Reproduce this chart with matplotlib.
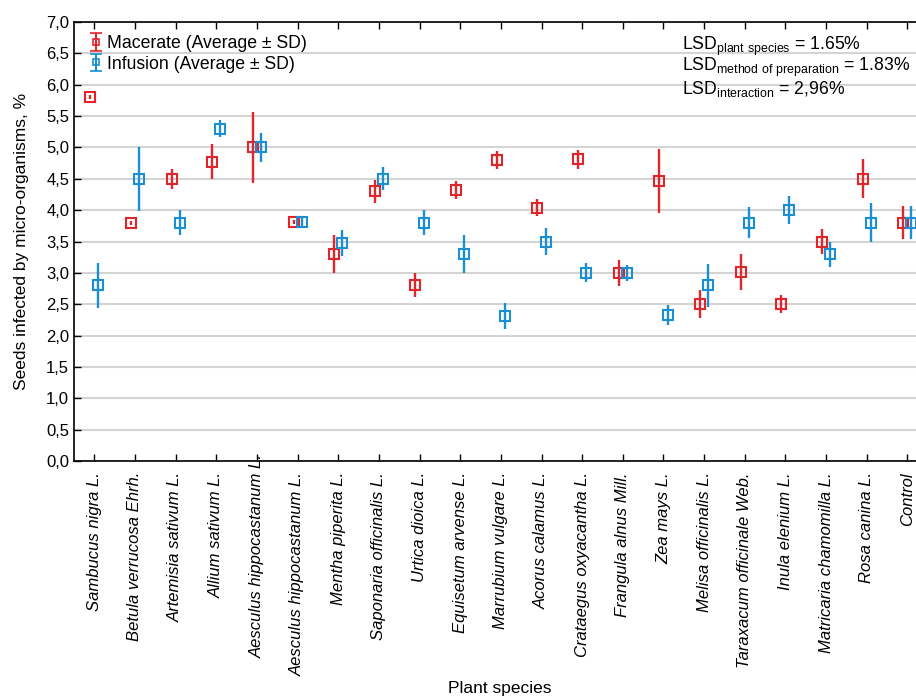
import numpy as np
import matplotlib
matplotlib.use("Agg")
import matplotlib.pyplot as plt
from matplotlib.ticker import FuncFormatter, MultipleLocator
from matplotlib.transforms import ScaledTranslation

plt.rcParams["font.family"] = ["Liberation Sans", "DejaVu Sans"]
plt.rcParams["mathtext.fontset"] = "custom"
plt.rcParams["mathtext.rm"] = "Liberation Sans"
plt.rcParams["font.size"] = 12

species = [
    "Sambucus nigra L.", "Betula verrucosa Ehrh.", "Artemisia sativum L.",
    "Allium sativum L.", "Aesculus hippocastanum L.", "Aesculus hippocastanum L.",
    "Mentha piperita L.", "Saponaria officinalis L.", "Urtica dioica L.",
    "Equisetum arvense L.", "Marrubium vulgare L.", "Acorus calamus L.",
    "Crataegus oxyacantha L.", "Frangula alnus Mill.", "Zea mays L.",
    "Melisa officinalis L.", "Taraxacum officinale Web.", "Inula elenium L.",
    "Matricaria chamomilla L.", "Rosa canina L.", "Control",
]
macerate_mean = [5.8, 3.8, 4.5, 4.77, 5.0, 3.81, 3.3, 4.3, 2.8, 4.32, 4.8,
                 4.04, 4.81, 3.0, 4.47, 2.5, 3.01, 2.5, 3.5, 4.5, 3.8]
macerate_sd = [0.03, 0.03, 0.16, 0.28, 0.57, 0.03, 0.3, 0.18, 0.19, 0.15, 0.15,
               0.14, 0.15, 0.21, 0.51, 0.22, 0.29, 0.14, 0.2, 0.31, 0.26]
infusion_mean = [2.8, 4.5, 3.8, 5.3, 5.0, 3.81, 3.48, 4.5, 3.8, 3.3, 2.31,
                 3.5, 3.0, 3.0, 2.33, 2.8, 3.8, 4.0, 3.3, 3.8, 3.8]
infusion_sd = [0.36, 0.51, 0.2, 0.14, 0.23, 0.1, 0.21, 0.18, 0.2, 0.3, 0.21,
               0.22, 0.15, 0.13, 0.16, 0.34, 0.25, 0.22, 0.2, 0.31, 0.26]

RED = "#e2252b"
BLUE = "#1a8fd3"

fig = plt.figure(figsize=(9.16, 6.98), dpi=100)
W, H = 916, 698
ax = fig.add_axes([74 / W, (H - 461) / H, 853.7 / W, 439 / H])

x = np.arange(len(species))
style = dict(fmt="s", ms=7, mfc="none", mew=1.5, elinewidth=1.7, capsize=0, ls="none")
ax.errorbar(x - 0.1, macerate_mean, yerr=macerate_sd, color=RED, zorder=3, **style)
ax.errorbar(x + 0.1, infusion_mean, yerr=infusion_sd, color=BLUE, zorder=3, **style)

# legend-only handles (with caps like the original)
leg_style = dict(fmt="s", ms=5, mfc="none", mew=1.2, elinewidth=1.5, capsize=4, capthick=1.5, ls="none")
h1 = ax.errorbar([np.nan], [np.nan], yerr=[0.1], color=RED, label="Macerate (Average ± SD)", **leg_style)
h2 = ax.errorbar([np.nan], [np.nan], yerr=[0.1], color=BLUE, label="Infusion (Average ± SD)", **leg_style)
ax.legend(handles=[h1, h2], loc="upper left", frameon=False, fontsize=12.7,
          handlelength=0.8, handletextpad=0.2, borderaxespad=0, borderpad=0,
          labelspacing=0.2, bbox_to_anchor=(15 / 853.7, 1 - 13 / 439))

ax.set_xlim(-0.5, 20.5)
ax.set_ylim(0, 7)
ax.yaxis.set_major_locator(MultipleLocator(0.5))
ax.yaxis.set_major_formatter(FuncFormatter(lambda v, p: f"{v:.1f}".replace(".", ",")))
ax.grid(True, axis="y", color="#d4d4d4", lw=1.5)
ax.set_axisbelow(True)

ax.set_xticks(x)
ax.set_xticklabels(species, rotation=90, style="italic", va="top", ha="center")
ax.tick_params(axis="both", direction="in", top=True, right=True, length=5, width=1)
ax.tick_params(axis="x", pad=8)
for s in ax.spines.values():
    s.set_linewidth(1.2)

# the first Aesculus label sits higher in the original
lbl = ax.get_xticklabels()[4]
lbl.set_transform(lbl.get_transform() + ScaledTranslation(0, 18 / 100, fig.dpi_scale_trans))

ax.set_ylabel("Seeds infected by micro-organisms, %", fontsize=12.5, va="center")
ax.yaxis.set_label_coords((22 - 74) / 853.7, 0.5)
ax.set_xlabel("Plant species", fontsize=12.5, va="center")
ax.xaxis.set_label_coords((500 - 74) / 853.7, (461 - 688) / 439)

lsd_lines = [
    r"LSD$_{\rm plant\ species}$ = 1.65%",
    r"LSD$_{\rm method\ of\ preparation}$ = 1.83%",
    r"LSD$_{\rm interaction}$ = 2,96%",
]
for i, t in enumerate(lsd_lines):
    fig.text(682 / W, 1 - (46 + i * 21.5) / H, t, ha="left", va="center", fontsize=12.7)

fig.savefig("out.png", dpi=100)
plt.close(fig)
